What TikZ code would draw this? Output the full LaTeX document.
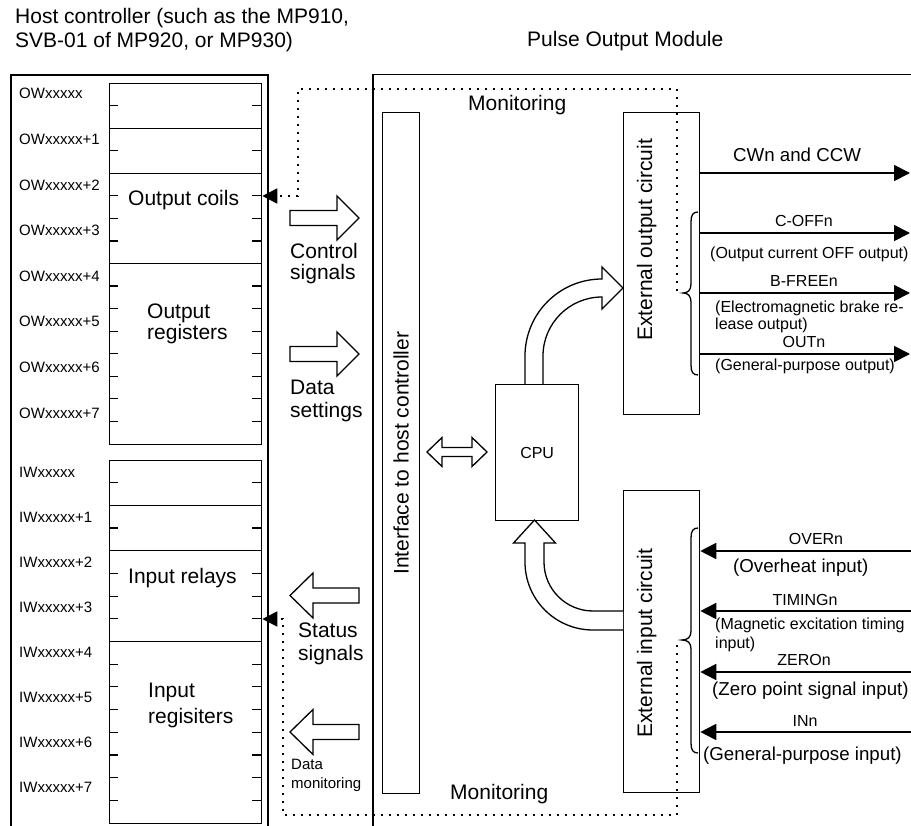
\documentclass[tikz,border=0pt]{standalone}
\usepackage{fontspec}
\setmainfont{Liberation Sans}
\usetikzlibrary{arrows.meta}
\newcommand\tln[3]{\vtop{\baselineskip=#3\hbox{#1}\hbox{#2}}}
\begin{document}
\begin{tikzpicture}[x=1pt,y=-1pt,
  outer/.style={line width=1.8pt},
  thin/.style={line width=1.2pt},
  box/.style={draw, line width=1.3pt, inner sep=0pt, anchor=north west},
  t21/.style={inner sep=0pt, font=\fontsize{21}{25}\selectfont},
  t19/.style={inner sep=0pt, font=\fontsize{18.7}{22}\selectfont},
  t16/.style={inner sep=0pt, font=\fontsize{16}{19}\selectfont},
  t15/.style={inner sep=0pt, font=\fontsize{15}{18}\selectfont},
  sig/.style={line width=1.8pt, -{Triangle[length=16pt,width=16pt]}},
  mon/.style={line width=1.7pt, dash pattern=on 1.7pt off 6.3pt, -{Triangle[length=15pt,width=15pt]}},
  blk/.style={draw, line width=1.3pt, fill=white, line join=miter},
  brc/.style={line width=1.3pt}]
\useasboundingbox (0,0) rectangle (911,826);

% headings
\node[t21, anchor=base west] (hc1) at (15,24) {Host controller (such as the MP910,};
\node[t21, anchor=base west] (hc2) at (15,48) {SVB-01 of MP920, or MP930)};
\node[t21, anchor=base west] (pom) at (527,47) {Pulse Output Module};

% host controller outer frame (open at bottom)
\draw[outer] (11,830) -- (11,75) -- (268,75) -- (268,830);

% register blocks
\node[box, minimum width=152pt, minimum height=361pt] (ow) at (109,83) {};
\node[box, minimum width=152pt, minimum height=363pt] (iw) at (109,460) {};
\foreach \k in {2,4,8} {
  \draw[thin] (109,{83+\k*22.5625}) -- (261,{83+\k*22.5625});
  \draw[thin] (109,{460+\k*22.6875}) -- (261,{460+\k*22.6875});
}
\foreach \k in {1,3,5,6,7,9,10,11,12,13,14,15} {
  \draw[thin] (109,{83+\k*22.5625}) -- +(9,0);
  \draw[thin] (261,{83+\k*22.5625}) -- +(-9,0);
  \draw[thin] (109,{460+\k*22.6875}) -- +(9,0);
  \draw[thin] (261,{460+\k*22.6875}) -- +(-9,0);
}
\foreach \k/\s in {0/,1/+1,2/+2,3/+3,4/+4,5/+5,6/+6,7/+7} {
  \node[t15, anchor=base west] (owl\k) at (19,{99+45.6*\k}) {OWxxxxx\s};
  \node[t15, anchor=base west] (iwl\k) at (19,{477+45*\k}) {IWxxxxx\s};
}
\node[t21, anchor=base west] (coils) at (128,206) {Output coils};
\node[t21, anchor=base west] (oreg) at (147,319) {\tln{Output}{registers}{21pt}};
\node[t21, anchor=base west] (relays) at (128,583) {Input relays};
\node[t21, anchor=base west] (ireg) at (148,697) {\tln{Input}{regisiters}{26pt}};

% middle labels
\node[t21, anchor=base west] (ctl) at (290,259) {\tln{Control}{signals}{21pt}};
\node[t21, anchor=base west] (dset) at (290,395) {\tln{Data}{settings}{23pt}};
\node[t21, anchor=base west] (stat) at (298,637) {\tln{Status}{signals}{23pt}};
\node[t15, anchor=base west] (dmon) at (291,769) {\tln{Data}{monitoring}{19pt}};

% block arrows
\draw[blk] (290,210.5) -- (337,210.5) -- (337,196) -- (359,218) -- (337,240) -- (337,225.5) -- (290,225.5) -- cycle;
\draw[blk] (290,346.5) -- (337,346.5) -- (337,332) -- (359,354) -- (337,376) -- (337,361.5) -- (290,361.5) -- cycle;
\draw[blk] (359,588) -- (313,588) -- (313,573) -- (290,595.5) -- (313,618) -- (313,603) -- (359,603) -- cycle;
\draw[blk] (359,724.5) -- (313,724.5) -- (313,709.5) -- (290,732) -- (313,754.5) -- (313,739.5) -- (359,739.5) -- cycle;

% pulse output module frame (open at right and bottom)
\draw[outer] (373,830) -- (373,74.5) -- (915,74.5);

% inner boxes
\node[box, minimum width=37pt, minimum height=681pt] (iface) at (382,112) {};
\node[box, minimum width=76pt, minimum height=302pt] (extout) at (623,112) {};
\node[box, minimum width=76pt, minimum height=302pt] (extin) at (623,490) {};
\node[box, minimum width=83pt, minimum height=136pt] (cpu) at (495,384) {};

\node[t21, rotate=90] (ifl) at (iface.center) {Interface to host controller};
\node[t21, rotate=90, anchor=base] (eol) at (652,240) {External output circuit};
\node[t21, rotate=90, anchor=base] (eil) at (652,643) {External input circuit};
\node[t16] (cpul) at (cpu.center) {CPU};

\node[t21, anchor=base west] (mont) at (468,111) {Monitoring};
\node[t21, anchor=base west] (monb) at (450,799) {Monitoring};

% double arrow interface <-> CPU
\draw[blk] (427,452) -- (442,437.5) -- (442,447.5) -- (472,447.5) -- (472,437.5) -- (487,452)
  -- (472,466.5) -- (472,456.5) -- (442,456.5) -- (442,466.5) -- cycle;

% curved arrow CPU -> external output circuit
\draw[blk] (525,384) -- (525,356) .. controls (525,313.5) and (559.5,279) .. (602,279)
  -- (602,267) -- (623,288) -- (602,309) -- (602,297)
  .. controls (569.4,297) and (543,323.4) .. (543,356) -- (543,384);
% curved arrow external input circuit -> CPU
\draw[blk] (623,630) -- (593,630) .. controls (555.4,630) and (525,599.6) .. (525,562)
  -- (525,543) -- (513.5,543) -- (534.5,520) -- (555.5,543) -- (544,543) -- (544,562)
  .. controls (544,589.1) and (565.9,611) .. (593,611) -- (623,611);

% output signals
\coordinate (cw) at (910,173);
\coordinate (coff) at (910,233);
\coordinate (bfree) at (910,293);
\coordinate (outn) at (910,354);
\foreach \c in {cw,coff,bfree,outn} \draw[sig] (extout.east |- \c) -- (\c);
\node[t19, anchor=base west] (cwl) at (733,162) {CWn and CCW};
\node[t16, anchor=base] (coffl) at (804,227) {C-OFFn};
\node[t16, anchor=base west] (coffd) at (710,259) {(Output current OFF output)};
\node[t16, anchor=base] (bfreel) at (804,287) {B-FREEn};
\node[t16, anchor=base west] (bfreed) at (715,313) {\tln{(Electromagnetic brake re-}{lease output)}{17pt}};
\node[t16, anchor=base] (outl) at (804,348) {OUTn};
\node[t16, anchor=base west] (outd) at (715,371) {(General-purpose output)};

% input signals
\coordinate (over) at (912,551);
\coordinate (timing) at (912,611);
\coordinate (zero) at (912,672);
\coordinate (inn) at (912,732);
\foreach \c in {over,timing,zero,inn} \draw[sig] (\c) -- (extin.east |- \c);
\node[t16, anchor=base] (overl) at (816,544) {OVERn};
\node[t19, anchor=base west] (overd) at (733,572) {(Overheat input)};
\node[t16, anchor=base] (timl) at (805,605) {TIMINGn};
\node[t16, anchor=base west] (timd) at (715,629) {\tln{(Magnetic excitation timing}{input)}{19pt}};
\node[t16, anchor=base] (zerol) at (804,665) {ZEROn};
\node[t19, anchor=base west] (zerod) at (712,695) {(Zero point signal input)};
\node[t16, anchor=base] (innl) at (805,726) {INn};
\node[t19, anchor=base west] (innd) at (703,760) {(General-purpose input)};

% braces
\draw[brc] (698,212) .. controls (693,212) and (691,215) .. (691,222) -- (691,284)
  .. controls (691,290) and (688,293) .. (683,293) .. controls (688,293) and (691,296) .. (691,302)
  -- (691,365) .. controls (691,372) and (693,375) .. (698,375);
\draw[brc] (698,528) .. controls (693,528) and (691,531) .. (691,538) -- (691,631)
  .. controls (691,637) and (688,640) .. (682,640) .. controls (688,640) and (691,643) .. (691,649)
  -- (691,743) .. controls (691,750) and (693,753) .. (698,753);

% monitoring paths
\coordinate (obr) at (677,291);
\coordinate (ibr) at (677,645);
\coordinate (coilin) at (0,196);
\coordinate (relin) at (0,619);
\draw[mon] (obr) |- (298,89) -- (298,196) -- (ow.east |- coilin);
\draw[mon] (ibr) |- (283,815) -- (283,619) -- (iw.east |- relin);
\end{tikzpicture}
\end{document}
